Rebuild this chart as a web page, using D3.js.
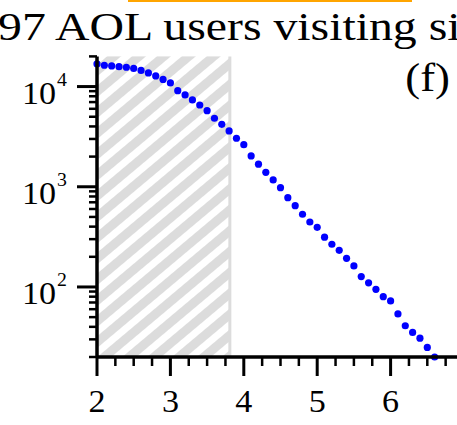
<!DOCTYPE html>
<html><head><meta charset="utf-8">
<script src="https://cdn.jsdelivr.net/npm/d3@7/dist/d3.min.js"></script>
<style>body{margin:0;background:#fff}svg{display:block}</style>
</head><body>
<svg id="c" width="457" height="425"></svg>
<script>
const xValues = [2.0,2.1,2.2,2.3,2.4,2.5,2.6,2.7,2.8,2.9,3.0,3.1,3.2,3.3,3.4,3.5,3.6,3.7,3.8,3.9,4.0,4.1,4.2,4.3,4.4,4.5,4.6,4.7,4.8,4.9,5.0,5.1,5.2,5.3,5.4,5.5,5.6,5.7,5.8,5.9,6.0,6.1,6.2,6.3,6.4,6.5,6.6];
const yValues = [16810,16320,16060,15800,15580,15160,14480,13670,12760,11770,10860,9100,8250,7350,6550,5750,4830,4200,3610,3050,2630,2030,1680,1395,1170,980,778,648,532,445,394,314,267,232,193,162,127,110,94.8,80.0,72.5,53.8,41.0,35.2,30.8,24.9,20.0];
const xTickLabels = ["2","3","4","5","6"];
const yTickExponents = ["2","3","4"];
const shadedRange = [2, 3.81];
const titleText = "97 AOL users visiting si";
const panelLabel = "(f)";

const FONT = "'Liberation Serif', 'Times New Roman', Times, serif";
const svg = d3.select("#c");
const x = d3.scaleLinear().domain([2, 7]).range([97, 464]);
const y = d3.scaleLog().domain([20, 20000]).range([357, 56.4]);

// hatch pattern
const defs = svg.append("defs");
const pat = defs.append("pattern").attr("id","hatch").attr("patternUnits","userSpaceOnUse")
  .attr("width", 16).attr("height", 16).attr("patternTransform","rotate(-40)");
pat.append("rect").attr("width",16).attr("height",16).attr("fill","#fff");
pat.append("rect").attr("width",16).attr("height",9).attr("fill","#dcdcdc");

// orange line at top
svg.append("rect").attr("x",128).attr("y",0).attr("width",284).attr("height",2).attr("fill","#FFA500");

// title
svg.append("text").attr("transform","translate(-2,40) scale(1.165,1)")
  .attr("font-family",FONT).attr("font-size",41).attr("fill","#000").attr("xml:space","preserve").text(titleText);

// shaded region
svg.append("rect").attr("x", x(shadedRange[0])).attr("y", y(20000))
  .attr("width", x(shadedRange[1]) - x(shadedRange[0])).attr("height", y(20) - y(20000))
  .attr("fill","url(#hatch)");
svg.append("line").attr("x1", x(shadedRange[1])).attr("x2", x(shadedRange[1]))
  .attr("y1", y(20000)).attr("y2", y(20)).attr("stroke","#dcdcdc").attr("stroke-width",3);

// points
svg.append("g").selectAll("circle").data(xValues.map((v,i)=>[v,yValues[i]])).join("circle")
  .attr("cx", d=>x(d[0])).attr("cy", d=>y(d[1])).attr("r",3.6).attr("fill","#0000ff");

// axes
const ax = svg.append("g").attr("stroke","#000");
ax.append("line").attr("x1", x(2)).attr("x2", 460).attr("y1", y(20)).attr("y2", y(20)).attr("stroke-width",3.5);
ax.append("line").attr("x1", x(2)).attr("x2", x(2)).attr("y1", y(20)).attr("y2", y(20000)).attr("stroke-width",3.5);

// x ticks
const xMajor = d3.range(2, 7.01, 1);
const xMinor = d3.range(2, 7.01, 0.25).filter(v => Math.abs(v - Math.round(v)) > 1e-6);
ax.selectAll(".xM").data(xMajor).join("line").attr("x1", d=>x(d)).attr("x2", d=>x(d))
  .attr("y1", y(20)).attr("y2", y(20)+19).attr("stroke-width",3);
ax.selectAll(".xm").data(xMinor).join("line").attr("x1", d=>x(d)).attr("x2", d=>x(d))
  .attr("y1", y(20)).attr("y2", y(20)+9).attr("stroke-width",2.5);

// y ticks
const yMajor = [100, 1000, 10000];
const yMinor = [];
[10,100,1000,10000].forEach(b => { for (let k=2;k<=9;k++){ const v=b*k; if (v>=20 && v<=20000) yMinor.push(v);} });
ax.selectAll(".yM").data(yMajor).join("line").attr("x1", x(2)-20).attr("x2", x(2))
  .attr("y1", d=>y(d)).attr("y2", d=>y(d)).attr("stroke-width",3);
ax.selectAll(".ym").data(yMinor).join("line").attr("x1", x(2)-8).attr("x2", x(2))
  .attr("y1", d=>y(d)).attr("y2", d=>y(d)).attr("stroke-width",2.5);

// x tick labels
svg.append("g").selectAll("text").data(xTickLabels).join("text")
  .attr("transform", d=>`translate(${x(+d)},412) scale(1.1,1)`)
  .attr("text-anchor","middle").attr("font-family",FONT).attr("font-size",31).text(d=>d);

// y tick labels
const yl = svg.append("g").attr("font-family",FONT);
yTickExponents.forEach(e => {
  const ty = y(Math.pow(10, +e));
  yl.append("text").attr("transform",`translate(56,${ty+17.5}) scale(1.1,1)`).attr("text-anchor","end")
    .attr("font-size",31).text("10");
  yl.append("text").attr("transform",`translate(57,${ty-1}) scale(1.1,1)`).attr("text-anchor","start")
    .attr("font-size",18).text(e);
});

// panel label
svg.append("text").attr("transform","translate(450,91) scale(1.12,1)").attr("text-anchor","end")
  .attr("font-family",FONT).attr("font-size",40).text(panelLabel);
</script>
</body></html>
